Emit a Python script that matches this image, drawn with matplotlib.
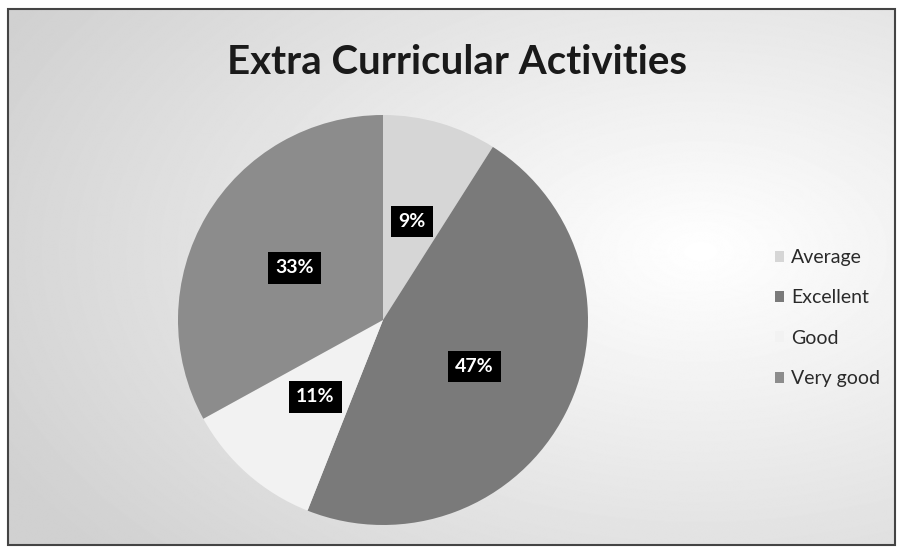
import numpy as np
import matplotlib
matplotlib.use('Agg')
import matplotlib.pyplot as plt
from matplotlib.patches import Rectangle

# -- data
labels  = ['Average', 'Excellent', 'Good', 'Very good']
values  = [9, 47, 11, 33]
colors  = ['#d6d6d6', '#7a7a7a', '#f2f2f2', '#8c8c8c']

plt.rcParams['font.family'] = ['Lato', 'DejaVu Sans']

W, H = 897, 549
fig = plt.figure(figsize=(W/100, H/100), dpi=100)
ax = fig.add_axes([0, 0, 1, 1])

# -- background: light grey fading to white toward the right centre
yy, xx = np.mgrid[0:H, 0:W]
d = np.sqrt(((xx - 700) / 700.0)**2 + ((yy - 300) / 420.0)**2)
bg = np.clip(1.0 - 0.16 * d, 0.82, 1.0)
ax.imshow(bg, cmap='gray', vmin=0, vmax=1, extent=[8, W - 2, 4, H - 9],
          origin='lower', zorder=0)
ax.add_patch(Rectangle((8, 4), W - 10, H - 13, fill=False, ec='#444444', lw=1.5, zorder=1))

# -- pie
wedges, texts, autotexts = ax.pie(values, colors=colors, startangle=90, counterclock=False,
                                  center=(383, 229), radius=205, autopct='%d%%',
                                  pctdistance=0.5, frame=True,
                                  wedgeprops=dict(linewidth=0),
                                  textprops=dict(color='white', fontsize=14, fontweight='bold'))
for t in autotexts:
    t.set_bbox(dict(facecolor='black', edgecolor='none', boxstyle='square,pad=0.38'))
    t.set_zorder(5)
ax.set_xlim(0, W)
ax.set_ylim(0, H)
ax.set_aspect('equal')
ax.axis('off')

# -- title
ax.text(457, H - 62, 'Extra Curricular Activities', ha='center', va='center',
        fontsize=29, fontweight='bold', color='#1a1a1a')

# -- legend
leg = ax.legend(wedges, labels, loc='center left', bbox_to_anchor=(757 / W, (H - 318) / H),
                frameon=False, fontsize=14, handlelength=0.5, handleheight=0.5,
                handletextpad=0.35, labelspacing=1.2, labelcolor='#2a2a2a')

fig.savefig('out.png', dpi=100)
